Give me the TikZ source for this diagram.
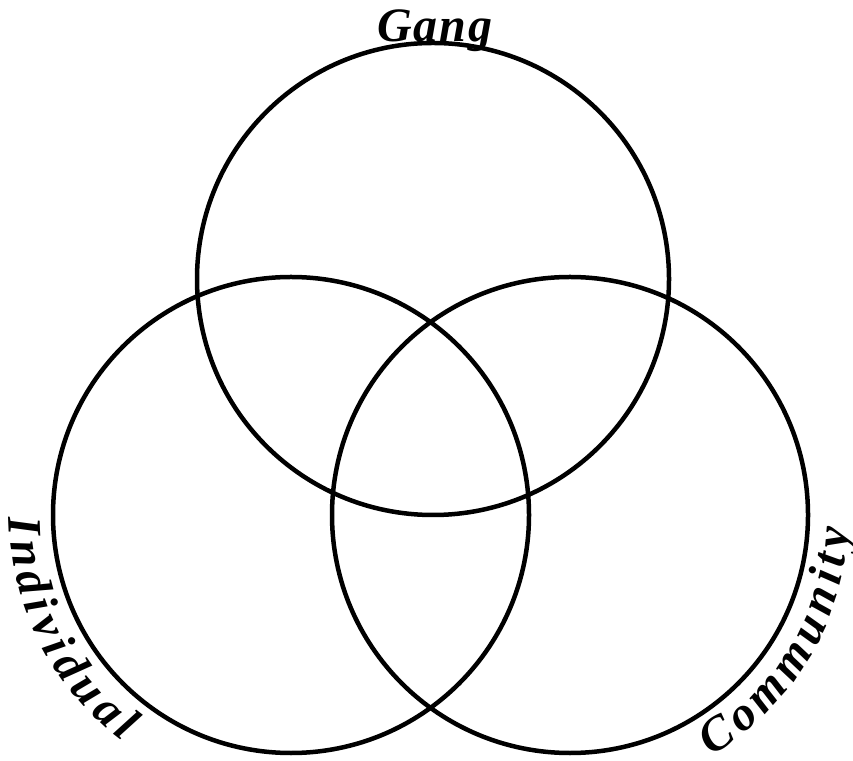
\documentclass[tikz,border=0pt]{standalone}
\usepackage{fontspec}
\setmainfont{Liberation Serif}
\usetikzlibrary{calc}
\begin{document}
\begin{tikzpicture}[x=1pt,y=1pt,
  ring/.style={draw=black,line width=4.5pt},
  lbl/.style={font=\fontsize{48}{48}\selectfont\bfseries\itshape,inner sep=0pt,anchor=base}]
\useasboundingbox (0,0) rectangle (853,760);
\coordinate (cg) at (433,481);
\coordinate (ci) at (291,245);
\coordinate (cc) at (570,245);
\draw[ring] (cg) circle[radius=236];
\draw[ring] (ci) circle[radius=238];
\draw[ring] (cc) circle[radius=238];
\node[lbl] (gang) at (435,718) {G\kern2pt a\kern2pt n\kern2pt g};
\foreach \ch/\a [count=\k] in {I/182.4,n/188.27,d/194.68,i/199.73,v/204.51,i/209.29,d/214.35,u/220.76,a/227.17,l/232.22}
  \node[lbl,rotate=\a+90] (ind\k) at ($(ci)+(\a:282)$) {\ch};
\foreach \ch/\a [count=\k] in {C/-56.4,o/-49.49,m/-42.04,m/-33.23,u/-25.51,n/-18.86,i/-13.58,t/-9.65,y/-4.91}
  \node[lbl,rotate=\a+90] (com\k) at ($(cc)+(\a:279)$) {\ch};
\end{tikzpicture}
\end{document}
